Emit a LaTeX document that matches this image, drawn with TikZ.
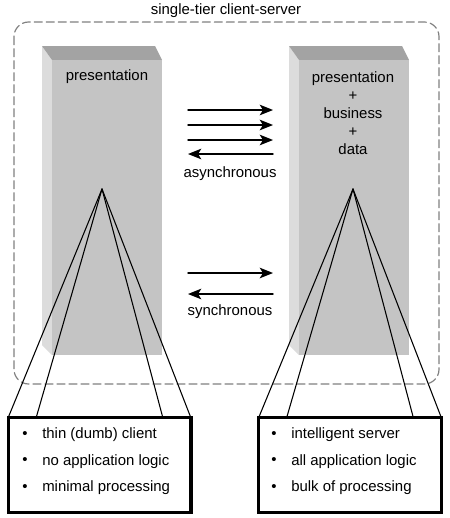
\documentclass[tikz,border=0pt]{standalone}
\usepackage{fontspec}
\setmainfont{Liberation Sans}
\usetikzlibrary{arrows.meta}
\definecolor{topgray}{HTML}{A3A3A3}
\definecolor{frontgray}{HTML}{C4C4C4}
\definecolor{sidegray}{HTML}{DCDCDC}
\definecolor{framegray}{HTML}{808080}

\begin{document}
\begin{tikzpicture}[x=0.75pt,y=-0.75pt,
  line cap=round,
  line join=round,
  every node/.style={font=\fontsize{11.2}{13.5}\selectfont,inner sep=0pt},
  msg/.style={-{Stealth[length=10pt,width=8pt,inset=2.5pt]},line width=1.1pt},
  fan/.style={line width=0.8pt},
  tierframe/.style={draw=framegray,dash pattern=on 6pt off 3pt,line width=0.9pt,rounded corners=11pt},
  infobox/.style={draw,line width=2.5pt,line join=miter,minimum width=137pt,minimum height=71pt,outer sep=0pt}]

  \useasboundingbox (0,0) rectangle (450,518);

  % 全体の枠
  \node (title) at (226,11) {single-tier client-server};
  \draw[tierframe] (14,22) rectangle (439,384);

  % 柱（左：クライアント，右：サーバ）
  \foreach \dx in {0,247}{
    \begin{scope}[shift={(\dx,0)}]
      \fill[sidegray]  (42,46) -- (52,60) -- (52,355) -- (42,345) -- cycle;
      \fill[topgray]   (42,46) -- (155,46) -- (162,60) -- (52,60) -- cycle;
      \fill[frontgray] (52,60) rectangle (162,355);
    \end{scope}
  }

  \node (lpres) at (107,77) {presentation};
  \node[align=center] (rtiers) at (353,113)
    {presentation\\+\\business\\+\\data};

  % 非同期メッセージ
  \foreach \y [count=\i] in {110,125,140}{
    \coordinate (as\i) at (188,\y);
    \coordinate (ae\i) at (273,\y);
    \draw[msg] (as\i) -- (ae\i);
  }
  \coordinate (as4) at (273,154);
  \coordinate (ae4) at (188,154);
  \draw[msg] (as4) -- (ae4);
  \node (async) at (230,174) {asynchronous};

  % 同期メッセージ
  \coordinate (ss1) at (188,273);
  \coordinate (se1) at (273,273);
  \coordinate (ss2) at (273,294);
  \coordinate (se2) at (188,294);
  \draw[msg] (ss1) -- (se1);
  \draw[msg] (ss2) -- (se2);
  \node (sync) at (230,312) {synchronous};

  % 説明ボックス
  \coordinate (lapex) at (102,189);
  \coordinate (rapex) at (353,189);
  \node[infobox] (lbox) at (99.5,465) {};
  \node[infobox] (rbox) at (350,465) {};

  \foreach \ap/\bx in {lapex/lbox,rapex/rbox}{
    \draw[fan] (\ap) -- (\bx.north west);
    \draw[fan] (\ap) -- ([xshift=21pt]\bx.north west);
    \draw[fan] (\ap) -- ([xshift=-21pt]\bx.north east);
    \draw[fan] (\ap) -- (\bx.north east);
  }

  \foreach \t [count=\i] in {{thin (dumb) client},{no application logic},{minimal processing}}{
    \node (lb\i) at (25,408.5+\i*26.5) {\textbullet};
    \node[anchor=west] (lt\i) at (42,408.5+\i*26.5) {\t};
  }
  \foreach \t [count=\i] in {{intelligent server},{all application logic},{bulk of processing}}{
    \node (rb\i) at (274,408.5+\i*26.5) {\textbullet};
    \node[anchor=west] (rt\i) at (291,408.5+\i*26.5) {\t};
  }

\end{tikzpicture}
\end{document}
